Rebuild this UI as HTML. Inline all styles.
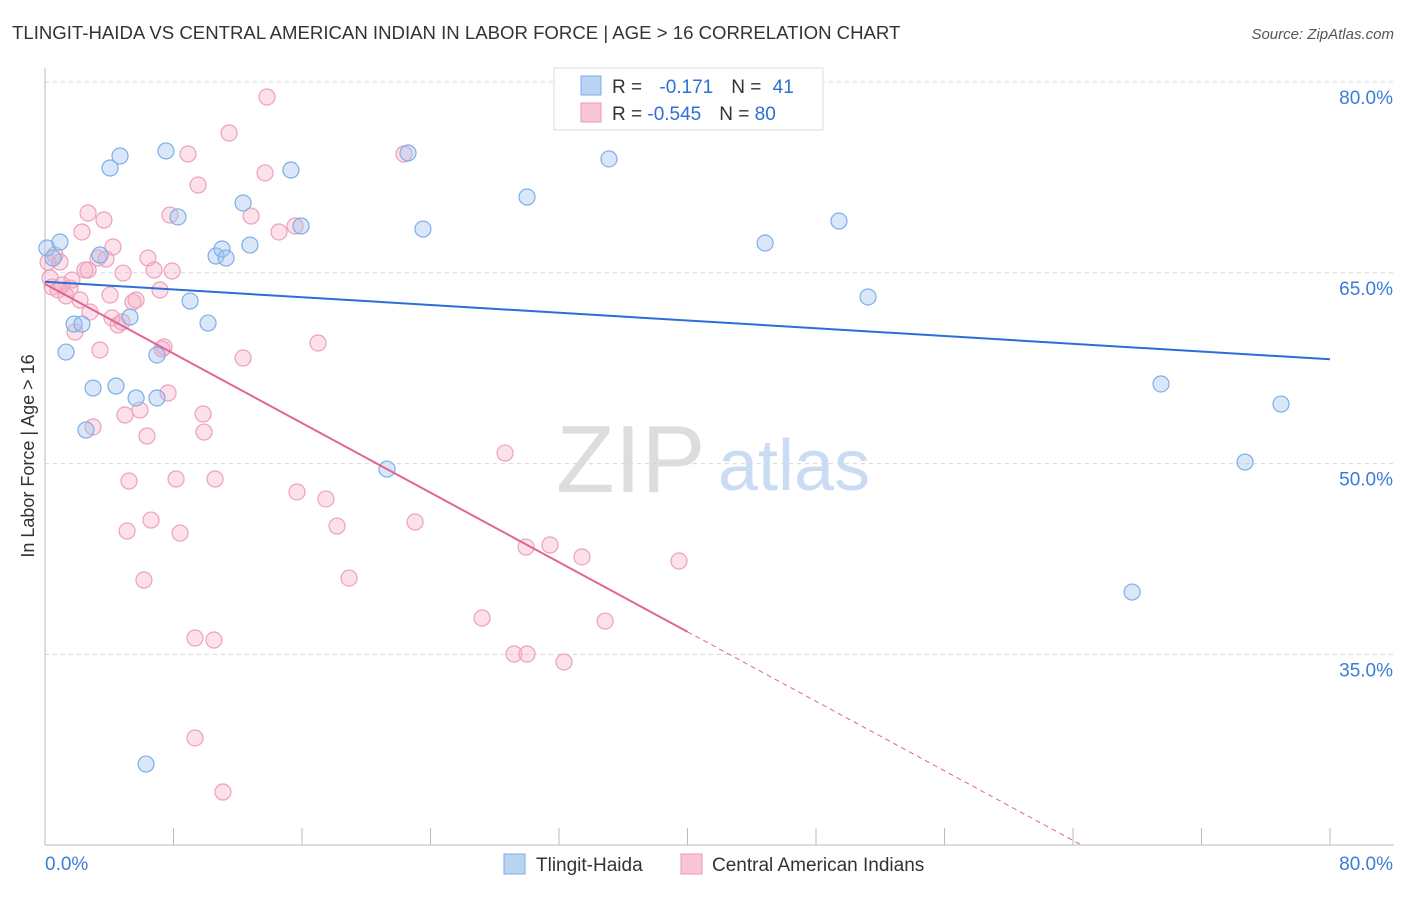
<!DOCTYPE html>
<html><head><meta charset="utf-8"><style>
body{margin:0;background:#fff;font-family:"Liberation Sans",sans-serif;}
svg text{font-family:"Liberation Sans",sans-serif;}
</style></head><body>
<svg id="chart" width="1406" height="892" xmlns="http://www.w3.org/2000/svg">
<text x="12" y="39" font-size="18.6" fill="#333">TLINGIT-HAIDA VS CENTRAL AMERICAN INDIAN IN LABOR FORCE | AGE &gt; 16 CORRELATION CHART</text>
<text x="1394" y="39" font-size="15" fill="#555" font-style="italic" text-anchor="end">Source: ZipAtlas.com</text>
<text x="0" y="0" transform="translate(34,456) rotate(-90)" font-size="18" fill="#333" text-anchor="middle">In Labor Force | Age &gt; 16</text>
<text x="556" y="492" font-size="96" fill="#ddd" font-family="Liberation Serif">ZIP</text>
<text x="718" y="490" font-size="72" fill="#c9dcf3">atlas</text>
<g id="grid"></g><g id="axes"></g><g id="pts"></g><g id="trend"></g>
<g>
<rect x="554" y="68" width="269" height="62" fill="#fff" stroke="#ddd"/>
<rect x="581" y="76" width="20" height="19" fill="#b9d3f3" stroke="#7eaee8"/>
<rect x="581" y="103" width="20" height="19" fill="#f8c6d5" stroke="#ec9ab4"/>
<text x="612" y="93" font-size="19" fill="#333">R = <tspan fill="#2d6fd2" dx="12">-0.171</tspan><tspan fill="#333" dx="18">N = </tspan><tspan fill="#2d6fd2" dx="6">41</tspan></text>
<text x="612" y="120" font-size="19" fill="#333">R = <tspan fill="#2d6fd2">-0.545</tspan><tspan fill="#333" dx="18">N = </tspan><tspan fill="#2d6fd2">80</tspan></text>
</g>
<g>
<rect x="504" y="854" width="21" height="20" fill="#b9d3f3" stroke="#7eaee8"/>
<text x="536" y="871" font-size="19" fill="#333">Tlingit-Haida</text>
<rect x="681" y="854" width="21" height="20" fill="#f8c6d5" stroke="#ec9ab4"/>
<text x="712" y="871" font-size="19" fill="#333">Central American Indians</text>
</g>
</svg>
<script>
const blueX=[0.12,0.93,0.50,1.31,1.81,2.30,2.55,2.99,3.42,4.05,4.42,4.67,5.29,5.67,6.29,6.97,6.97,7.53,8.28,9.03,10.15,10.65,11.02,11.27,12.33,12.76,15.31,15.94,21.29,22.60,23.53,30.01,35.11,36.61,44.83,49.43,51.24,69.48,74.71,76.95,67.68];
const blueY=[66.95,67.42,66.16,58.77,60.97,60.97,52.64,55.94,66.40,73.24,56.10,74.18,61.52,55.16,26.38,58.54,55.16,74.58,69.39,62.78,61.05,66.32,66.87,66.16,70.49,67.18,73.08,68.68,49.57,74.42,68.44,70.96,73.95,76.93,67.34,69.07,63.10,56.26,50.12,54.68,39.90];
const pinkX=[0.19,0.31,0.44,0.62,0.81,1.06,1.31,1.56,1.68,1.87,2.18,2.30,2.49,2.68,2.80,2.99,3.30,3.42,3.67,3.80,4.05,4.17,4.23,4.55,4.79,4.86,4.98,5.11,5.23,5.48,5.67,5.91,6.16,6.35,6.41,6.60,6.79,7.16,7.28,7.41,7.66,7.78,7.91,8.16,8.41,8.90,9.34,9.53,9.84,9.90,10.52,10.59,11.08,11.46,12.33,12.83,13.70,13.82,14.57,15.57,15.69,17.00,17.49,18.18,18.93,22.35,23.04,27.21,28.64,29.20,29.95,30.01,31.44,32.31,33.43,34.87,39.47,9.34,2.68,0.93];
const pinkY=[65.85,64.59,63.88,66.40,63.65,64.04,63.18,63.80,64.43,60.34,62.86,68.21,65.22,69.70,61.92,52.88,66.16,58.93,69.15,66.08,63.25,61.45,67.03,60.90,61.13,64.98,53.82,44.70,48.63,62.70,62.86,54.21,40.85,52.17,66.16,45.56,65.22,63.65,59.01,59.17,55.55,69.54,65.14,48.79,44.54,74.34,36.29,71.90,53.90,52.48,36.13,48.79,24.18,75.99,58.30,69.46,72.85,78.82,68.21,68.68,47.77,59.48,47.22,45.09,41.00,74.34,45.41,37.86,50.83,35.03,43.44,35.03,43.60,34.40,42.66,37.62,42.34,28.43,65.22,65.85];
const blueTrend=[64.3,58.2]; // value at x=0, x=80
const pinkTrend=[64.12,-0.6835]; // intercept, slope
const pinkSolidEnd=40.0;
const yTicks=[80,65,50,35];
const yTickLabels=["80.0%","65.0%","50.0%","35.0%"];
const xTickVals=[0,8,16,24,32,40,48,56,64,72,80];

const NS="http://www.w3.org/2000/svg";
const X=v=>45+v*1285/80;
const Y=v=>82+(80-v)*12.72;
function mk(p,tag,attrs){const e=document.createElementNS(NS,tag);for(const k in attrs)e.setAttribute(k,attrs[k]);document.getElementById(p).appendChild(e);return e;}
yTicks.forEach((t,i)=>{
  const l=mk('grid','line',{x1:45,x2:1394,y1:Y(t),y2:Y(t),stroke:'#d8d8d8','stroke-dasharray':'4,4'});
  
  
  const tx=mk('grid','text',{x:1393,y:Y(t)+22,'font-size':19,fill:'#3b7dd8','text-anchor':'end'});
  tx.textContent=yTickLabels[i];
  
  
});
let a=mk('axes','line',{x1:45,x2:45,y1:68,y2:845,stroke:'#bbb'});


a=mk('axes','line',{x1:45,x2:1394,y1:845,y2:845,stroke:'#bbb'});


xTickVals.forEach(v=>{
  const t=mk('axes','line',{x1:X(v),x2:X(v),y1:828,y2:845,stroke:'#bbb'});
  
  
});
let xl=mk('axes','text',{x:45,y:870,'font-size':19,fill:'#3b7dd8'});xl.textContent='0.0%';


xl=mk('axes','text',{x:1393,y:870,'font-size':19,fill:'#3b7dd8','text-anchor':'end'});xl.textContent='80.0%';


pinkX.forEach((v,i)=>{
  const c=mk('pts','circle',{cx:X(v),cy:Y(pinkY[i]),r:8,fill:'rgba(245,170,195,0.35)',stroke:'#eea0ba','stroke-width':1.2});
  
  
});
blueX.forEach((v,i)=>{
  const c=mk('pts','circle',{cx:X(v),cy:Y(blueY[i]),r:8,fill:'rgba(160,195,240,0.4)',stroke:'#7eaee8','stroke-width':1.2});
  
  
});
let t=mk('trend','line',{x1:X(0),y1:Y(blueTrend[0]),x2:X(80),y2:Y(blueTrend[1]),stroke:'#2b6fd6','stroke-width':2});


const pf=x=>pinkTrend[0]+pinkTrend[1]*x;
t=mk('trend','line',{x1:X(0),y1:Y(pf(0)),x2:X(pinkSolidEnd),y2:Y(pf(pinkSolidEnd)),stroke:'#e06592','stroke-width':2});


const xEnd=(20-pinkTrend[0])/pinkTrend[1];
t=mk('trend','line',{x1:X(pinkSolidEnd),y1:Y(pf(pinkSolidEnd)),x2:X(xEnd),y2:Y(20),stroke:'#e06592','stroke-width':1,'stroke-dasharray':'5,4'});


</script>
</body></html>
